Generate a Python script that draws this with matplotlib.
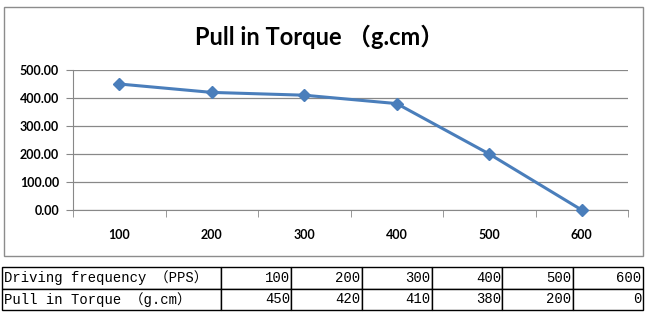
import matplotlib.pyplot as plt
from matplotlib.patches import Rectangle

freq = [100, 200, 300, 400, 500, 600]
torque = [450, 420, 410, 380, 200, 0]
row_labels = ["Driving frequency （PPS）", "Pull in Torque （g.cm）"]
title = "Pull in Torque （g.cm）"
line_color = "#4a7ebb"

fig = plt.figure(figsize=(6.5, 3.14), dpi=100)
W, H = 650, 314

# chart frame
fig.patches.append(Rectangle((4 / W, 1 - 256 / H), 639 / W, 249 / H,
                             transform=fig.transFigure, fill=False,
                             edgecolor="#8c8c8c", lw=1))

fig.text(319 / W, 1 - 37 / H, title, ha="center", va="center",
         fontsize=17, fontweight="bold",
         family=["Lato", "Noto Sans CJK SC"])

ax = fig.add_axes([73 / W, 1 - 210 / H, 555 / W, 140 / H])
x = list(range(len(freq)))
ax.plot(x, torque, color=line_color, lw=2.2, marker="D", ms=6,
        markeredgecolor=line_color, clip_on=False, zorder=3)
ax.set_xlim(-0.5, len(freq) - 0.5)
ax.set_ylim(0, 500)
ax.set_yticks([0, 100, 200, 300, 400, 500])
ax.set_yticklabels(["%.2f" % v for v in [0, 100, 200, 300, 400, 500]])
ax.set_xticks(x)
ax.set_xticklabels([str(f) for f in freq])
ax.set_xticks([i - 0.5 for i in range(len(freq) + 1)], minor=True)
ax.tick_params(axis="x", which="major", length=0, pad=14)
ax.tick_params(axis="x", which="minor", length=5, color="#888888")
ax.tick_params(axis="y", length=5, color="#888888", pad=5)
for lab in ax.get_xticklabels() + ax.get_yticklabels():
    lab.set_fontsize(9)
    lab.set_fontweight("bold")
    lab.set_family("Lato")
ax.grid(axis="y", color="#888888", lw=0.9)
ax.set_axisbelow(True)
for s in ["top", "right"]:
    ax.spines[s].set_visible(False)
for s in ["left", "bottom"]:
    ax.spines[s].set_color("#888888")

# data table below the chart
tax = fig.add_axes([2 / W, 1 - 310 / H, 641 / W, 43 / H])
tax.axis("off")
cells = [[row_labels[0]] + [str(f) for f in freq],
         [row_labels[1]] + [str(t) for t in torque]]
widths = [218] + [70] * 6
tot = sum(widths)
tbl = tax.table(cellText=cells, colWidths=[w / tot for w in widths],
                bbox=[0, 0, 1, 1])
tbl.auto_set_font_size(False)
for (r, c), cell in tbl.get_celld().items():
    cell.set_linewidth(1)
    cell.set_edgecolor("black")
    t = cell.get_text()
    t.set_fontsize(10)
    t.set_family(["Liberation Mono", "Noto Sans CJK SC"])
    if c == 0:
        cell.set_text_props(ha="left")
        cell.PAD = 0.01
    else:
        cell.set_text_props(ha="right")
        cell.PAD = 0.02

fig.savefig("out.png", dpi=100)
